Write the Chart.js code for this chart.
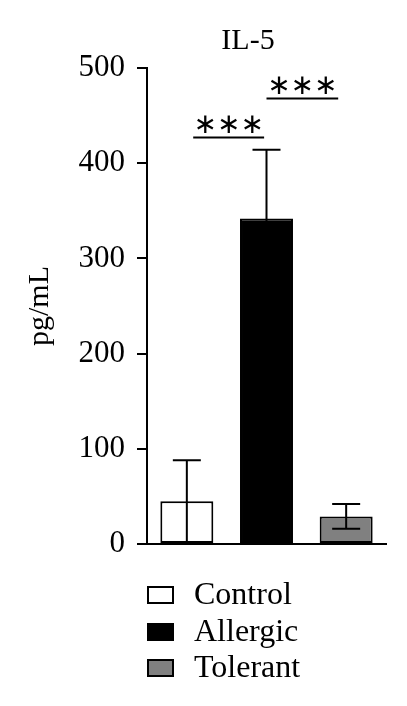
<!DOCTYPE html>
<html>
<head>
<meta charset="utf-8">
<script src="https://cdn.jsdelivr.net/npm/chart.js@4.4.1/dist/chart.umd.min.js"></script>
<style>
  html, body { margin: 0; padding: 0; background: #ffffff; }
  canvas { display: block; }
</style>
</head>
<body>
<canvas id="c" width="407" height="706"></canvas>
<script>
// ---- Data ----
const categories = ['Control', 'Allergic', 'Tolerant'];
const means      = [45, 342, 29];
const errUpper   = [88, 414, 42];
const errLower   = [2, 270, 16];
const yTickValues = [0, 100, 200, 300, 400, 500];
const sigPairs   = [[0, 1], [1, 2]];
const sigLevels  = [427, 468];
const sigLabels  = ['***', '***'];
const chartTitle = 'IL-5';
const yTitle     = 'pg/mL';

const SERIF = '"Liberation Serif", "Times New Roman", serif';

const errorBarPlugin = {
  id: 'errorBars',
  afterDatasetsDraw(chart) {
    const ctx = chart.ctx;
    const meta = chart.getDatasetMeta(0);
    const y = chart.scales.y;
    ctx.save();
    ctx.strokeStyle = '#000';
    ctx.lineWidth = 2;
    meta.data.forEach((bar, i) => {
      const x = bar.x;
      const yu = y.getPixelForValue(errUpper[i]);
      const yl = y.getPixelForValue(errLower[i]);
      const cap = 14;
      ctx.beginPath();
      ctx.moveTo(x, yl); ctx.lineTo(x, yu);
      ctx.moveTo(x - cap, yu); ctx.lineTo(x + cap, yu);
      ctx.moveTo(x - cap, yl); ctx.lineTo(x + cap, yl);
      ctx.stroke();
    });
    ctx.restore();
  }
};

const annotationPlugin = {
  id: 'annotations',
  afterDraw(chart) {
    const ctx = chart.ctx;
    const xs = chart.scales.x, ys = chart.scales.y;
    const c0 = xs.getPixelForValue(0), c1 = xs.getPixelForValue(1);
    const cw = c1 - c0;
    const spans = [[0.08, -0.03], [0.0, -0.1]];
    ctx.save();
    sigPairs.forEach((p, i) => {
      const xa = c0 + p[0] * cw + spans[i][0] * cw;
      const xb = c0 + p[1] * cw + spans[i][1] * cw;
      const yy = ys.getPixelForValue(sigLevels[i]);
      ctx.strokeStyle = '#000';
      ctx.lineWidth = 2;
      ctx.beginPath();
      ctx.moveTo(xa, yy); ctx.lineTo(xb, yy);
      ctx.stroke();
      ctx.fillStyle = '#000';
      ctx.font = '28px "DejaVu Sans"';
      ctx.textAlign = 'center';
      ctx.textBaseline = 'middle';
      const s = sigLabels[i].replace(/\*/g, '\u2217');
      ctx.fillText(s, (xa + xb) / 2, yy - 12);
    });
    ctx.fillStyle = '#000';
    ctx.font = '30px ' + SERIF;
    ctx.textAlign = 'center';
    ctx.textBaseline = 'alphabetic';
    ctx.fillText(chartTitle, 248, 49);
    const colors = chart.data.datasets[0].backgroundColor;
    const rowY = [595, 632, 668];
    categories.forEach((lab, i) => {
      ctx.fillStyle = colors[i];
      ctx.fillRect(148, rowY[i] - 8, 25, 16);
      ctx.strokeStyle = '#000';
      ctx.lineWidth = 2;
      ctx.strokeRect(148, rowY[i] - 8, 25, 16);
      ctx.fillStyle = '#000';
      ctx.font = '32px ' + SERIF;
      ctx.textAlign = 'left';
      ctx.textBaseline = 'middle';
      ctx.fillText(lab, 194, rowY[i] + 1);
    });
    ctx.restore();
  }
};

new Chart(document.getElementById('c'), {
  type: 'bar',
  data: {
    labels: categories,
    datasets: [{
      data: means,
      backgroundColor: ['#ffffff', '#000000', '#808080'],
      borderColor: '#000000',
      borderWidth: 2,
      borderSkipped: false,
      categoryPercentage: 1.0,
      barPercentage: 0.665
    }]
  },
  options: {
    responsive: false,
    animation: false,
    devicePixelRatio: 1,
    layout: { padding: { left: 0, right: 21, top: 68, bottom: 162 } },
    plugins: {
      legend: { display: false },
      tooltip: { enabled: false },
      title: { display: false }
    },
    scales: {
      x: {
        grid: { display: false },
        ticks: { display: false },
        border: { display: true, color: '#000', width: 2 },
        afterFit(scale) { scale.height = 0; }
      },
      y: {
        min: yTickValues[0],
        max: yTickValues[yTickValues.length - 1],
        afterBuildTicks(scale) { scale.ticks = yTickValues.map(v => ({ value: v })); },
        ticks: {
          color: '#000',
          font: { family: SERIF, size: 31 },
          padding: 12
        },
        grid: {
          drawOnChartArea: false,
          drawTicks: true,
          tickLength: 10,
          tickColor: '#000',
          tickWidth: 2,
          color: '#000',
          lineWidth: 2
        },
        border: { display: true, color: '#000', width: 2 },
        title: {
          display: true,
          text: yTitle,
          color: '#000',
          font: { family: SERIF, size: 30 },
          padding: { top: 22, bottom: 0 }
        },
        afterFit(scale) { scale.width = 147; }
      }
    }
  },
  plugins: [errorBarPlugin, annotationPlugin]
});
</script>
</body>
</html>
